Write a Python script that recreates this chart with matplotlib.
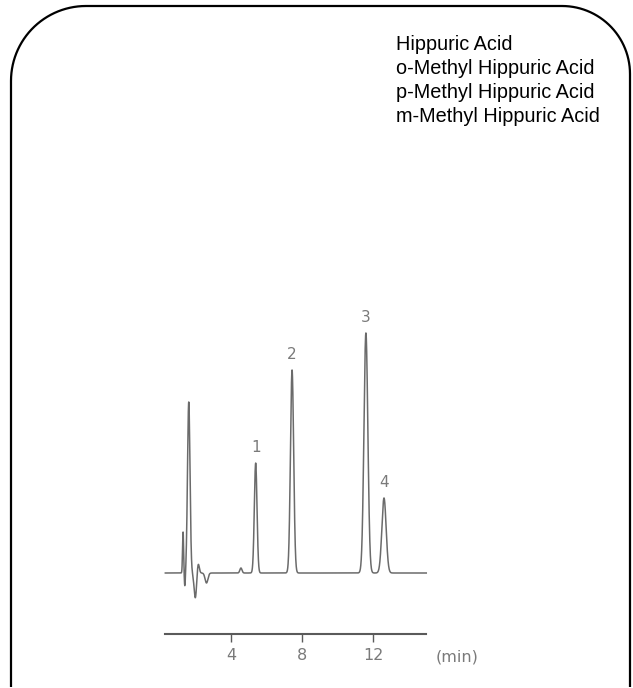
"""Chromatogram of hippuric acid and methyl hippuric acid isomers."""

import matplotlib

matplotlib.use("Agg")
import matplotlib.pyplot as plt
from matplotlib.patches import PathPatch
from matplotlib.path import Path
import numpy as np


# compounds listed in the upper right corner
COMPOUNDS = [
    "Hippuric Acid",
    "o-Methyl Hippuric Acid",
    "p-Methyl Hippuric Acid",
    "m-Methyl Hippuric Acid",
]

# analyte peaks: retention time (min), height (response), width sigma (min)
PEAK_LABELS = ["1", "2", "3", "4"]
PEAK_TIMES = [5.39, 7.44, 11.60, 12.62]
PEAK_HEIGHTS = [110, 203, 240, 75]
PEAK_SIGMAS = [0.075, 0.09, 0.11, 0.12]

# solvent front / injection disturbance near the start of the run
FRONT_TIMES = [1.30, 1.40, 1.62, 1.99, 2.15, 2.62, 4.56]
FRONT_HEIGHTS = [41, -14, 171, -25, 10, -10, 5]
FRONT_SIGMAS = [0.03, 0.03, 0.07, 0.07, 0.06, 0.08, 0.06]

TIME_TICKS = [4, 8, 12]
TIME_RANGE = (0.3, 15.0)

TRACE_COLOR = "#6b6b6b"
AXIS_COLOR = "#5a5a5a"
LABEL_COLOR = "#7a7a7a"


def chromatogram(t):
    signal = np.zeros_like(t)
    times = PEAK_TIMES + FRONT_TIMES
    heights = PEAK_HEIGHTS + FRONT_HEIGHTS
    sigmas = PEAK_SIGMAS + FRONT_SIGMAS
    for t0, h, s in zip(times, heights, sigmas):
        signal += h * np.exp(-0.5 * ((t - t0) / s) ** 2)
    return signal


def draw_frame(fig):
    # rounded top corners, square bottom (pixel units -> inches)
    left, right, top, bottom = 11, 630, 688 - 6, 688 - 687
    r_left, r_right = 75, 68
    verts = [(left, bottom), (left, top - r_left)]
    a = np.linspace(np.pi, np.pi / 2, 30)
    verts += list(zip(left + r_left + r_left * np.cos(a), top - r_left + r_left * np.sin(a)))
    verts.append((right - r_right, top))
    a = np.linspace(np.pi / 2, 0, 30)
    verts += list(zip(right - r_right + r_right * np.cos(a), top - r_right + r_right * np.sin(a)))
    verts.append((right, bottom))
    verts = np.array(verts) / 100.0
    patch = PathPatch(
        Path(verts),
        transform=fig.dpi_scale_trans,
        facecolor="none",
        edgecolor="black",
        linewidth=1.6,
    )
    fig.patches.append(patch)


def main():
    fig = plt.figure(figsize=(6.33, 6.88), dpi=100)
    draw_frame(fig)

    # one data unit of response is one pixel vertically
    px_per_min = 17.75
    x0 = 160 + TIME_RANGE[0] * px_per_min
    width = (TIME_RANGE[1] - TIME_RANGE[0]) * px_per_min
    ax = fig.add_axes([x0 / 633, (688 - 634) / 688, width / 633, 334 / 688])
    ax.set_xlim(*TIME_RANGE)
    ax.set_ylim(-61, 273)
    ax.patch.set_alpha(0)

    t = np.arange(TIME_RANGE[0], TIME_RANGE[1] + 0.002, 0.004)
    ax.plot(t, chromatogram(t), color=TRACE_COLOR, linewidth=1.1, clip_on=False)

    for label, t0, h in zip(PEAK_LABELS, PEAK_TIMES, PEAK_HEIGHTS):
        ax.annotate(
            label,
            (t0, h),
            xytext=(0, 11),
            textcoords="offset points",
            ha="center",
            va="center",
            fontsize=11,
            color=LABEL_COLOR,
        )

    for side in ("top", "right", "left"):
        ax.spines[side].set_visible(False)
    ax.spines["bottom"].set_color(AXIS_COLOR)
    ax.spines["bottom"].set_linewidth(1.5)
    ax.set_yticks([])
    ax.set_xticks(TIME_TICKS)
    ax.set_xticklabels([str(v) for v in TIME_TICKS])
    ax.tick_params(
        axis="x",
        direction="out",
        length=5.5,
        width=1.0,
        color=AXIS_COLOR,
        labelcolor=LABEL_COLOR,
        labelsize=11.5,
        pad=4.5,
    )
    ax.text(16.73, -84, "(min)", ha="center", va="center", fontsize=11.5,
            color=LABEL_COLOR, clip_on=False)

    for i, name in enumerate(COMPOUNDS):
        fig.text(396 / 633, 1 - (45 + 23.7 * i) / 688, name, ha="left", va="center",
                 fontsize=14.3, family="Liberation Sans", color="black")

    fig.savefig("out.png", dpi=100)


if __name__ == "__main__":
    main()
